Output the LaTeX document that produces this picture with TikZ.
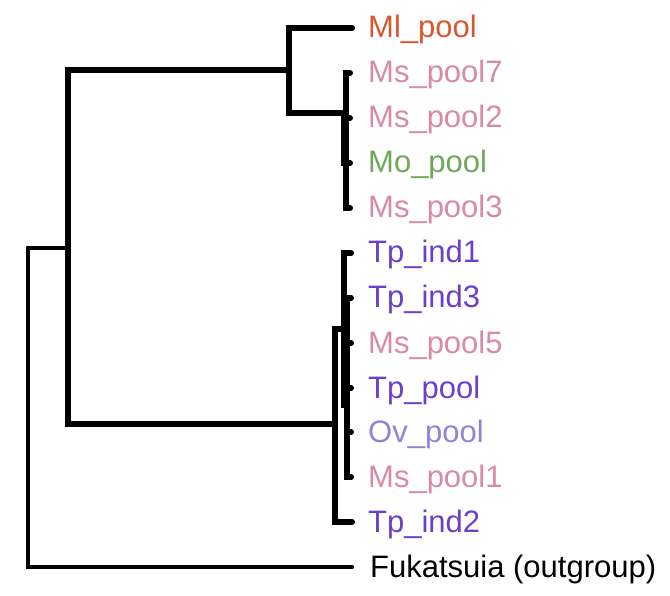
\documentclass[tikz,border=0pt]{standalone}
\usepackage{fontspec}
\setmainfont{Liberation Sans}
\definecolor{cMl}{HTML}{D9572F}
\definecolor{cMs}{HTML}{D88AA6}
\definecolor{cMo}{HTML}{6FA85A}
\definecolor{cTp}{HTML}{6B3FCC}
\definecolor{cOv}{HTML}{8C85DA}
\begin{document}
\begin{tikzpicture}[x=1pt,y=-1pt,
  branch/.style={line width=6pt, line cap=round},
  thinbranch/.style={line width=4.4pt, line cap=round},
  leaf/.style={anchor=base west, inner sep=0pt, font=\fontsize{31}{31}\selectfont}]
\useasboundingbox (0,0) rectangle (670,596);
% leaf labels
\node[leaf, text=cMl] (lMl)  at (368,38)  {Ml\_pool};
\node[leaf, text=cMs] (lMs7) at (368,83)  {Ms\_pool7};
\node[leaf, text=cMs] (lMs2) at (368,128) {Ms\_pool2};
\node[leaf, text=cMo] (lMo)  at (368,173) {Mo\_pool};
\node[leaf, text=cMs] (lMs3) at (368,218) {Ms\_pool3};
\node[leaf, text=cTp] (lTp1) at (368,263) {Tp\_ind1};
\node[leaf, text=cTp] (lTp3) at (368,308) {Tp\_ind3};
\node[leaf, text=cMs] (lMs5) at (368,353) {Ms\_pool5};
\node[leaf, text=cTp] (lTpp) at (368,398) {Tp\_pool};
\node[leaf, text=cOv] (lOv)  at (368,442) {Ov\_pool};
\node[leaf, text=cMs] (lMs1) at (368,487) {Ms\_pool1};
\node[leaf, text=cTp] (lTp2) at (368,532) {Tp\_ind2};
\node[leaf]           (lFuk) at (370,577) {Fukatsuia (outgroup)};
% tips
\coordinate (tMl)  at (352,28);
\coordinate (tMs7) at (350,73);
\coordinate (tMs2) at (350,118);
\coordinate (tMo)  at (350,163);
\coordinate (tMs3) at (350,208);
\coordinate (tTp1) at (351,253);
\coordinate (tTp3) at (351,298);
\coordinate (tMs5) at (351,343);
\coordinate (tTpp) at (351,388);
\coordinate (tOv)  at (351,432);
\coordinate (tMs1) at (351,477);
\coordinate (tTp2) at (352,522);
\coordinate (tFuk) at (352,567);
% internal nodes
\coordinate (root) at (28,248);
\coordinate (ing)  at (68,248);
\coordinate (nA)   at (289,70);
\coordinate (nB)   at (346,113);
\coordinate (nB2)  at (344,135);
\coordinate (nC)   at (335,424);
\coordinate (nD)   at (344,329);
\coordinate (nE)   at (347,405);
% branches
\draw[thinbranch] (root) |- (tFuk);
\draw[thinbranch] (root) -- (ing);
\draw[branch] (ing) |- (nA);
\draw[branch] (ing) |- (nC);
\draw[branch] (nA) |- (tMl);
\draw[branch] (nA) |- (nB);
\draw[branch] (nB) |- (tMs7);
\draw[branch] (nB) |- (nB2);
\draw[branch] (nB2) |- (tMs2);
\draw[branch] (nB2) |- (tMo);
\draw[branch] (nB) |- (tMs3);
\draw[branch] (nC) |- (nD);
\draw[branch] (nC) |- (tTp2);
\draw[branch] (nD) |- (tTp1);
\draw[branch] (nD) |- (nE);
\draw[branch] (nE) |- (tTp3);
\draw[branch] (nE) |- (tMs5);
\draw[branch] (nE) |- (tTpp);
\draw[branch] (nE) |- (tOv);
\draw[branch] (nE) |- (tMs1);
\end{tikzpicture}
\end{document}
